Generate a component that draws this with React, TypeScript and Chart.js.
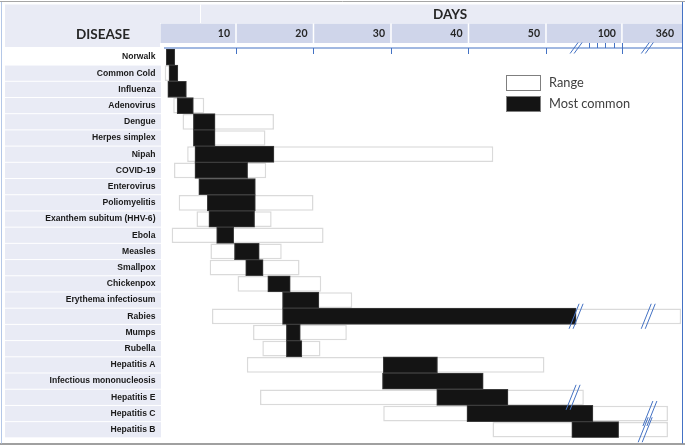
import React, { useEffect, useRef } from "react";
import { Chart, registerables } from "chart.js";
Chart.register(...registerables);

const W = 685;
const H = 446;

const diseases = [
  "Norwalk", "Common Cold", "Influenza", "Adenovirus", "Dengue", "Herpes simplex", "Nipah",
  "COVID-19", "Enterovirus", "Poliomyelitis", "Exanthem subitum (HHV-6)", "Ebola", "Measles",
  "Smallpox", "Chickenpox", "Erythema infectiosum", "Rabies", "Mumps", "Rubella", "Hepatitis A",
  "Infectious mononucleosis", "Hepatitis E", "Hepatitis C", "Hepatitis B",
];
// incubation period in days
const rangeStart = [1, 0.8, 1.2, 1.9, 3.1, 4.5, 3.7, 2.0, 5.2, 2.6, 4.9, 1.7, 6.7, 6.6, 10.2, 16, 6.9, 12.2, 13.4, 11.4, 28.9, 13.1, 29, 43.1];
const rangeEnd = [2.1, 2.5, 3.6, 5.9, 14.9, 13.8, 43.2, 13.9, 12.5, 20, 14.6, 21.3, 15.9, 18.2, 21, 25, 352, 24.3, 20.9, 49.8, 41.9, 58.8, 296, 296];
const commonStart = [1, 1.35, 1.2, 2.4, 4.5, 4.5, 4.7, 4.7, 5.2, 6.3, 6.5, 7.5, 9.8, 11.25, 14.1, 16, 16, 16.5, 16.5, 29, 28.9, 35.9, 39.8, 56];
const commonEnd = [2.1, 2.5, 3.6, 4.5, 7.3, 7.3, 14.9, 11.5, 12.5, 12.5, 12.4, 9.7, 13, 13.5, 17, 20.7, 57, 18.3, 18.5, 36, 41.9, 45.1, 64.8, 96];

// broken axis: days -> axis units (piecewise linear)
const scaleDays = [0, 50, 60, 100, 360];
const scaleUnits = [0, 50, 55.55, 59.8, 67.68];

const tickDays = [10, 20, 30, 40, 50, 100, 360];
const tickLabels = ["10", "20", "30", "40", "50", "100", "360"];
const minorTickDays = [60, 70, 80, 90];
const axisBreakDays = [57, 208];
const rowBreakNames = ["Rabies", "Rabies", "Hepatitis E", "Hepatitis C", "Hepatitis B"];
const rowBreakDays = [57, 212, 56.3, 219, 199];

function toAxis(d: number): number {
  for (let i = 1; i < scaleDays.length; i++) {
    if (d <= scaleDays[i]) {
      const t = (d - scaleDays[i - 1]) / (scaleDays[i] - scaleDays[i - 1]);
      return scaleUnits[i - 1] + t * (scaleUnits[i] - scaleUnits[i - 1]);
    }
  }
  return scaleUnits[scaleUnits.length - 1];
}

const LIGHT = "#e9ebf5";
const DARK = "#cfd5ea";
const BLUE = "#4472c4";
const HEAD_FONT = "Lato, 'Open Sans', sans-serif";

function drawBreak(ctx: CanvasRenderingContext2D, x: number, cy: number, half: number, dx: number) {
  ctx.strokeStyle = BLUE;
  ctx.lineWidth = 1;
  for (const off of [-2, 2]) {
    ctx.beginPath();
    ctx.moveTo(x + off - dx / 2, cy + half);
    ctx.lineTo(x + off + dx / 2, cy - half);
    ctx.stroke();
  }
}

const decor = {
  id: "decor",
  beforeDraw(chart: any) {
    const { ctx } = chart;
    const x = chart.scales.x;
    const y = chart.scales.y;
    ctx.save();
    ctx.fillStyle = "#ffffff";
    ctx.fillRect(0, 0, W, H);
    // header top band
    ctx.fillStyle = LIGHT;
    ctx.fillRect(5, 4.5, 677, 18.5);
    ctx.fillRect(5, 23, 155, 24);
    ctx.fillStyle = "#ffffff";
    ctx.fillRect(200, 4.5, 1, 18.5);
    // tick label row
    ctx.fillStyle = DARK;
    ctx.fillRect(160.5, 23.5, 521.5, 19.5);
    ctx.fillStyle = "#ffffff";
    for (let i = 0; i < tickDays.length - 1; i++) {
      const px = x.getPixelForValue(toAxis(tickDays[i]));
      ctx.fillRect(px - 0.75, 23.5, 1.5, 19.5);
    }
    // row label bands
    ctx.fillStyle = LIGHT;
    for (let i = 1; i < diseases.length; i++) {
      const cy = y.getPixelForValue(i);
      ctx.fillRect(5, cy - 7.6, 156, 15.2);
    }
    ctx.restore();
  },
  afterDatasetsDraw(chart: any) {
    const { ctx } = chart;
    const x = chart.scales.x;
    const y = chart.scales.y;
    ctx.save();
    // axis line
    ctx.strokeStyle = BLUE;
    ctx.lineWidth = 1;
    ctx.beginPath();
    ctx.moveTo(164, 48);
    ctx.lineTo(682, 48);
    ctx.stroke();
    for (let i = 0; i < tickDays.length - 1; i++) {
      const px = Math.round(x.getPixelForValue(toAxis(tickDays[i]))) + 0.5;
      ctx.beginPath();
      ctx.moveTo(px, tickDays[i] === 100 ? 43 : 48);
      ctx.lineTo(px, 54);
      ctx.stroke();
    }
    for (const d of minorTickDays) {
      const px = Math.round(x.getPixelForValue(toAxis(d))) + 0.5;
      ctx.beginPath();
      ctx.moveTo(px, 43);
      ctx.lineTo(px, 48);
      ctx.stroke();
    }
    for (const d of axisBreakDays) {
      drawBreak(ctx, x.getPixelForValue(toAxis(d)), 48, 5.5, 8);
    }
    // row breaks
    for (let i = 0; i < rowBreakNames.length; i++) {
      const r = diseases.indexOf(rowBreakNames[i]);
      const cy = y.getPixelForValue(r);
      drawBreak(ctx, x.getPixelForValue(toAxis(rowBreakDays[i])), cy, 12.5, 10);
    }
    // header texts
    ctx.fillStyle = "#262626";
    ctx.textBaseline = "middle";
    ctx.textAlign = "center";
    ctx.font = `bold 13.5px ${HEAD_FONT}`;
    ctx.fillText("DISEASE", 103, 34.5);
    ctx.fillText("DAYS", 450, 14.5);
    ctx.font = `bold 10.5px ${HEAD_FONT}`;
    ctx.textAlign = "right";
    for (let i = 0; i < tickDays.length; i++) {
      const px = x.getPixelForValue(toAxis(tickDays[i]));
      ctx.fillText(tickLabels[i], px - (tickDays[i] === 360 ? 9 : 6), 34);
    }
    // legend
    ctx.fillStyle = "#ffffff";
    ctx.fillRect(506.5, 75.5, 34, 15);
    ctx.strokeStyle = "#7f7f7f";
    ctx.lineWidth = 1;
    ctx.strokeRect(506.5, 75.5, 34, 15);
    ctx.fillStyle = "#141414";
    ctx.fillRect(506, 96, 35, 15.5);
    ctx.strokeRect(506.5, 96.5, 34, 15);
    ctx.fillStyle = "#404040";
    ctx.textAlign = "left";
    ctx.font = `12.8px ${HEAD_FONT}`;
    ctx.fillText("Range", 549, 83);
    ctx.fillText("Most common", 549, 103.5);
    // frame
    ctx.strokeStyle = "#a6a6a6";
    ctx.beginPath();
    ctx.moveTo(0, 1.5);
    ctx.lineTo(W, 1.5);
    ctx.stroke();
    ctx.strokeStyle = "#808080";
    ctx.lineWidth = 1.5;
    ctx.beginPath();
    ctx.moveTo(0, 444);
    ctx.lineTo(W, 444);
    ctx.stroke();
    ctx.strokeStyle = BLUE;
    ctx.lineWidth = 1;
    ctx.beginPath();
    ctx.moveTo(682.5, 2);
    ctx.lineTo(682.5, 443.5);
    ctx.stroke();
    ctx.strokeStyle = "#b4c7e7";
    ctx.beginPath();
    ctx.moveTo(1.5, 2);
    ctx.lineTo(1.5, 443.5);
    ctx.stroke();
    ctx.restore();
  },
};

export default function App() {
  const ref = useRef<HTMLCanvasElement | null>(null);
  useEffect(() => {
    document.body.style.margin = "0";
    const canvas = ref.current;
    if (!canvas) return;
    const chart = new Chart(canvas, {
      type: "bar",
      data: {
        labels: diseases,
        datasets: [
          {
            label: "Most common",
            data: diseases.map((_, i) => [toAxis(commonStart[i]), toAxis(commonEnd[i])]) as any,
            backgroundColor: "#141414",
            borderColor: "#3c3c3c",
            borderWidth: 1,
            borderSkipped: false,
            grouped: false,
            barPercentage: 1,
            categoryPercentage: 1,
            order: 1,
          },
          {
            label: "Range",
            data: diseases.map((_, i) => [toAxis(rangeStart[i]), toAxis(rangeEnd[i])]) as any,
            backgroundColor: "#ffffff",
            borderColor: "#dadada",
            borderWidth: 1.5,
            borderSkipped: false,
            grouped: false,
            barPercentage: 1,
            categoryPercentage: 0.97,
            order: 2,
          },
        ],
      },
      options: {
        indexAxis: "y",
        animation: false,
        responsive: false,
        devicePixelRatio: 1,
        layout: { padding: { left: 0, top: 48.85, right: 2, bottom: 5.8 } },
        plugins: { legend: { display: false }, tooltip: { enabled: false } },
        scales: {
          x: {
            type: "linear",
            min: 0,
            max: toAxis(360),
            display: false,
          },
          y: {
            type: "category",
            offset: true,
            grid: { display: false, drawTicks: false },
            border: { display: false },
            ticks: {
              autoSkip: false,
              padding: 3,
              color: "#1a1a1a",
              font: { family: "'Liberation Sans', Arial, sans-serif", weight: "bold", size: 8.6 },
            },
            afterFit: (s: any) => {
              s.width = 158.5;
            },
          },
        },
      } as any,
      plugins: [decor],
    });
    return () => chart.destroy();
  }, []);
  return (
    <div style={{ position: "absolute", left: 0, top: 0, width: W, height: H }}>
      <canvas ref={ref} width={W} height={H} style={{ width: W, height: H, display: "block" }} />
    </div>
  );
}
